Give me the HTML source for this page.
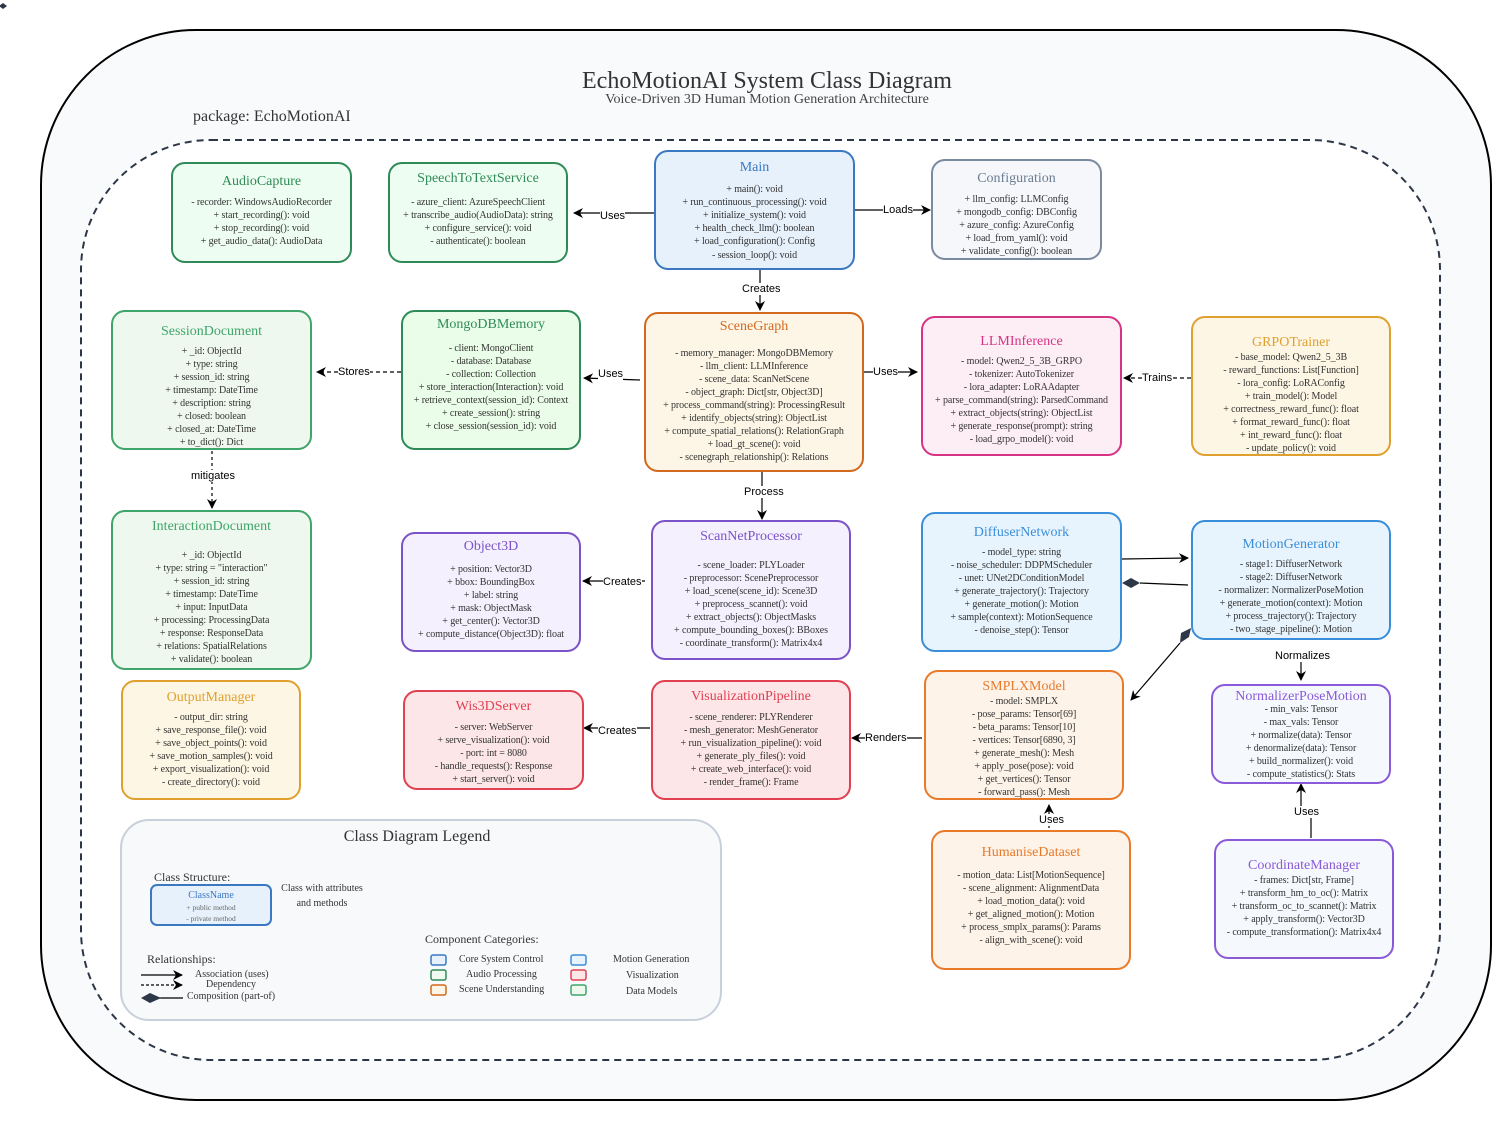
<!DOCTYPE html>
<html><head><meta charset="utf-8"><style>
*{margin:0;padding:0;box-sizing:border-box}
body{width:1492px;height:1131px;background:#fff;position:relative;overflow:hidden;font-family:"Liberation Serif",serif;color:#333}
.b{position:absolute;border:2px solid;border-radius:14px;text-align:center}
.b .t{font-size:14px;line-height:16px;white-space:nowrap}
.b .m{font-size:10px;line-height:13px;white-space:nowrap;color:#333;letter-spacing:-0.1px}
.lbl{position:absolute;font-family:"Liberation Sans",sans-serif;font-size:11px;color:#000;background:#fff;line-height:12px;white-space:nowrap}
.tx{position:absolute;white-space:nowrap}
</style></head><body>
<svg width="1492" height="1131" style="position:absolute;left:0;top:0">
<defs>
<marker id="a" markerWidth="10" markerHeight="10" refX="9" refY="5" orient="auto" markerUnits="userSpaceOnUse"><path d="M0,0 L10,5 L0,10 L3,5 z" fill="#000"/></marker>
</defs>
<path d="M3,3 l4,3 -4,3 -4,-3z" fill="#2d3748"/>
<rect x="41" y="30" width="1450" height="1070" rx="155" fill="#f8fafc" stroke="#000" stroke-width="2"/>
<rect x="81" y="140" width="1359" height="920" rx="130" fill="#fff" stroke="#2d3748" stroke-width="2" stroke-dasharray="7,5"/>
<g stroke="#000" stroke-width="1.2" fill="none">
<line x1="654" y1="213" x2="574" y2="213" marker-end="url(#a)"/>
<line x1="855" y1="210" x2="930" y2="210" marker-end="url(#a)"/>
<line x1="760" y1="270" x2="760" y2="310" marker-end="url(#a)"/>
<line x1="401" y1="372" x2="317" y2="372" stroke-dasharray="4,3" marker-end="url(#a)"/>
<line x1="640" y1="380" x2="584" y2="378" marker-end="url(#a)"/>
<line x1="864" y1="372" x2="917" y2="372" marker-end="url(#a)"/>
<line x1="1191" y1="378" x2="1124" y2="378" stroke-dasharray="4,3" marker-end="url(#a)"/>
<line x1="212" y1="451" x2="212" y2="508" stroke-dasharray="3,3" marker-end="url(#a)"/>
<line x1="762" y1="472" x2="762" y2="519" marker-end="url(#a)"/>
<line x1="645" y1="581" x2="583" y2="581" marker-end="url(#a)"/>
<line x1="1122" y1="559" x2="1188" y2="558" marker-end="url(#a)"/>
<line x1="1140" y1="583" x2="1188" y2="585"/>
<line x1="1180" y1="643" x2="1131" y2="700" marker-end="url(#a)"/>
<line x1="1301" y1="662" x2="1301" y2="680" marker-end="url(#a)"/>
<line x1="1311" y1="838" x2="1311" y2="818"/>
<line x1="1301" y1="806" x2="1301" y2="784" marker-end="url(#a)"/>
<line x1="650" y1="728" x2="584" y2="728" marker-end="url(#a)"/>
<line x1="922" y1="738" x2="852" y2="738" marker-end="url(#a)"/>
<line x1="1049" y1="828" x2="1049" y2="805" marker-end="url(#a)"/>
</g>
<path d="M1122,583 L1131,578 L1140,583 L1131,588 z" fill="#2d3748"/>
<path d="M1180,643 L1181,633 L1191,628 L1189,637 z" fill="#2d3748"/>
<rect x="121" y="820" width="600" height="200" rx="28" fill="#f7f9fb" stroke="#c8d0dc" stroke-width="2"/>
<rect x="151" y="885" width="120" height="40" rx="6" fill="#e6f1fc" stroke="#3a78c2" stroke-width="2"/>
<g stroke="#000" stroke-width="1.2">
<line x1="141" y1="975" x2="182" y2="975" marker-end="url(#a)"/>
<line x1="141" y1="985" x2="182" y2="985" stroke-dasharray="3,2" marker-end="url(#a)"/>
<line x1="158" y1="998" x2="183" y2="998"/>
</g>
<path d="M141,998 L150,993 L161,998 L150,1003 z" fill="#2d3748"/>
<g stroke-width="1.5">
<rect x="431" y="955" width="15" height="10" rx="2" fill="#e6f1fc" stroke="#3a78c2"/>
<rect x="431" y="970" width="15" height="10" rx="2" fill="#eefaf2" stroke="#2e8b57"/>
<rect x="431" y="985" width="15" height="10" rx="2" fill="#fdf6e6" stroke="#d2691e"/>
<rect x="571" y="955" width="15" height="10" rx="2" fill="#e8f4fd" stroke="#3a8ed9"/>
<rect x="571" y="970" width="15" height="10" rx="2" fill="#fde6e8" stroke="#e04050"/>
<rect x="571" y="985" width="15" height="10" rx="2" fill="#eef8ee" stroke="#3fa56a"/>
</g>
</svg>

<div class="tx" style="left:0;width:1534px;text-align:center;top:68px;font-size:24px;color:#333">EchoMotionAI System Class Diagram</div>
<div class="tx" style="left:0;width:1534px;text-align:center;top:92px;font-size:14px;color:#444">Voice-Driven 3D Human Motion Generation Architecture</div>
<div class="tx" style="left:193px;top:108px;font-size:16px;color:#333">package: EchoMotionAI</div>

<div class="b" style="left:171px;top:162px;width:181px;height:101px;border-color:#2e8b57;background:#eefdf2;padding-top:10px"><div class="t" style="color:#2e8b57">AudioCapture</div><div class="m" style="margin-top:6px">- recorder: WindowsAudioRecorder<br>+ start_recording(): void<br>+ stop_recording(): void<br>+ get_audio_data(): AudioData</div></div>

<div class="b" style="left:388px;top:162px;width:180px;height:101px;border-color:#2e8b57;background:#eefdf2;padding-top:7px"><div class="t" style="color:#2e8b57">SpeechToTextService</div><div class="m" style="margin-top:9px">- azure_client: AzureSpeechClient<br>+ transcribe_audio(AudioData): string<br>+ configure_service(): void<br>- authenticate(): boolean</div></div>

<div class="b" style="left:654px;top:150px;width:201px;height:120px;border-color:#3a78c2;background:#e6f1fc;padding-top:8px"><div class="t" style="color:#3a78c2">Main</div><div class="m" style="margin-top:7px">+ main(): void<br>+ run_continuous_processing(): void<br>+ initialize_system(): void<br>+ health_check_llm(): boolean<br>+ load_configuration(): Config<br><span style="line-height:16px">- session_loop(): void</span></div></div>

<div class="b" style="left:931px;top:159px;width:171px;height:101px;border-color:#7a8aa0;background:#f5f7fa;padding-top:10px"><div class="t" style="color:#6b7c93">Configuration</div><div class="m" style="margin-top:6px">+ llm_config: LLMConfig<br>+ mongodb_config: DBConfig<br>+ azure_config: AzureConfig<br>+ load_from_yaml(): void<br>+ validate_config(): boolean</div></div>

<div class="b" style="left:111px;top:310px;width:201px;height:140px;border-color:#3fa56a;background:#eef8ee;padding-top:12px"><div class="t" style="color:#3fa56a">SessionDocument</div><div class="m" style="margin-top:5px">+ _id: ObjectId<br>+ type: string<br>+ session_id: string<br>+ timestamp: DateTime<br>+ description: string<br>+ closed: boolean<br>+ closed_at: DateTime<br>+ to_dict(): Dict</div></div>

<div class="b" style="left:401px;top:310px;width:180px;height:140px;border-color:#2e8b57;background:#eafde8;padding-top:5px"><div class="t" style="color:#2e8b57">MongoDBMemory</div><div class="m" style="margin-top:9px">- client: MongoClient<br>- database: Database<br>- collection: Collection<br>+ store_interaction(Interaction): void<br>+ retrieve_context(session_id): Context<br>+ create_session(): string<br>+ close_session(session_id): void</div></div>

<div class="b" style="left:644px;top:312px;width:220px;height:160px;border-color:#d2691e;background:#fdf6e6;padding-top:5px"><div class="t" style="color:#d2691e">SceneGraph</div><div class="m" style="margin-top:12px">- memory_manager: MongoDBMemory<br>- llm_client: LLMInference<br>- scene_data: ScanNetScene<br>- object_graph: Dict[str, Object3D]<br>+ process_command(string): ProcessingResult<br>+ identify_objects(string): ObjectList<br>+ compute_spatial_relations(): RelationGraph<br>+ load_gt_scene(): void<br>- scenegraph_relationship(): Relations</div></div>

<div class="b" style="left:921px;top:316px;width:201px;height:140px;border-color:#d63384;background:#fdeef5;padding-top:16px"><div class="t" style="color:#d63384">LLMInference</div><div class="m" style="margin-top:5px">- model: Qwen2_5_3B_GRPO<br>- tokenizer: AutoTokenizer<br>- lora_adapter: LoRAAdapter<br>+ parse_command(string): ParsedCommand<br>+ extract_objects(string): ObjectList<br>+ generate_response(prompt): string<br>- load_grpo_model(): void</div></div>

<div class="b" style="left:1191px;top:316px;width:200px;height:140px;border-color:#e0a030;background:#fef6e4;padding-top:17px"><div class="t" style="color:#e0a030">GRPOTrainer</div><div class="m" style="margin-top:0px">- base_model: Qwen2_5_3B<br>- reward_functions: List[Function]<br>- lora_config: LoRAConfig<br>+ train_model(): Model<br>+ correctness_reward_func(): float<br>+ format_reward_func(): float<br>+ int_reward_func(): float<br>- update_policy(): void</div></div>

<div class="b" style="left:111px;top:510px;width:201px;height:160px;border-color:#3fa56a;background:#eef8ee;padding-top:7px"><div class="t" style="color:#3fa56a">InteractionDocument</div><div class="m" style="margin-top:14px">+ _id: ObjectId<br>+ type: string = "interaction"<br>+ session_id: string<br>+ timestamp: DateTime<br>+ input: InputData<br>+ processing: ProcessingData<br>+ response: ResponseData<br>+ relations: SpatialRelations<br>+ validate(): boolean</div></div>

<div class="b" style="left:401px;top:532px;width:180px;height:120px;border-color:#7b52c8;background:#f4f0fd;padding-top:5px"><div class="t" style="color:#7b52c8">Object3D</div><div class="m" style="margin-top:8px">+ position: Vector3D<br>+ bbox: BoundingBox<br>+ label: string<br>+ mask: ObjectMask<br>+ get_center(): Vector3D<br>+ compute_distance(Object3D): float</div></div>

<div class="b" style="left:651px;top:520px;width:200px;height:140px;border-color:#7b52c8;background:#f4f0fd;padding-top:7px"><div class="t" style="color:#7b52c8">ScanNetProcessor</div><div class="m" style="margin-top:14px">- scene_loader: PLYLoader<br>- preprocessor: ScenePreprocessor<br>+ load_scene(scene_id): Scene3D<br>+ preprocess_scannet(): void<br>+ extract_objects(): ObjectMasks<br>+ compute_bounding_boxes(): BBoxes<br>- coordinate_transform(): Matrix4x4</div></div>

<div class="b" style="left:921px;top:512px;width:201px;height:140px;border-color:#3a8ed9;background:#e8f4fd;padding-top:11px"><div class="t" style="color:#3a8ed9">DiffuserNetwork</div><div class="m" style="margin-top:5px">- model_type: string<br>- noise_scheduler: DDPMScheduler<br>- unet: UNet2DConditionModel<br>+ generate_trajectory(): Trajectory<br>+ generate_motion(): Motion<br>+ sample(context): MotionSequence<br>- denoise_step(): Tensor</div></div>

<div class="b" style="left:1191px;top:520px;width:200px;height:120px;border-color:#3a8ed9;background:#e8f4fd;padding-top:15px"><div class="t" style="color:#3a8ed9">MotionGenerator</div><div class="m" style="margin-top:5px">- stage1: DiffuserNetwork<br>- stage2: DiffuserNetwork<br>- normalizer: NormalizerPoseMotion<br>+ generate_motion(context): Motion<br>+ process_trajectory(): Trajectory<br>- two_stage_pipeline(): Motion</div></div>

<div class="b" style="left:121px;top:680px;width:180px;height:120px;border-color:#e0a030;background:#fef6e4;padding-top:8px"><div class="t" style="color:#e0a030">OutputManager</div><div class="m" style="margin-top:5px">- output_dir: string<br>+ save_response_file(): void<br>+ save_object_points(): void<br>+ save_motion_samples(): void<br>+ export_visualization(): void<br>- create_directory(): void</div></div>

<div class="b" style="left:403px;top:690px;width:181px;height:100px;border-color:#e04050;background:#fde6e8;padding-top:7px"><div class="t" style="color:#e04050">Wis3DServer</div><div class="m" style="margin-top:6px">- server: WebServer<br>+ serve_visualization(): void<br>- port: int = 8080<br>- handle_requests(): Response<br>+ start_server(): void</div></div>

<div class="b" style="left:651px;top:680px;width:200px;height:120px;border-color:#e04050;background:#fde6e8;padding-top:7px"><div class="t" style="color:#e04050">VisualizationPipeline</div><div class="m" style="margin-top:6px">- scene_renderer: PLYRenderer<br>- mesh_generator: MeshGenerator<br>+ run_visualization_pipeline(): void<br>+ generate_ply_files(): void<br>+ create_web_interface(): void<br>- render_frame(): Frame</div></div>

<div class="b" style="left:924px;top:670px;width:200px;height:130px;border-color:#e87a2a;background:#fef3e8;padding-top:7px"><div class="t" style="color:#e87a2a">SMPLXModel</div><div class="m" style="margin-top:0px">- model: SMPLX<br>- pose_params: Tensor[69]<br>- beta_params: Tensor[10]<br>- vertices: Tensor[6890, 3]<br>+ generate_mesh(): Mesh<br>+ apply_pose(pose): void<br>+ get_vertices(): Tensor<br>- forward_pass(): Mesh</div></div>

<div class="b" style="left:1211px;top:684px;width:180px;height:100px;border-color:#8a5ad8;background:#f5f8fc;padding-top:3px"><div class="t" style="color:#8a5ad8">NormalizerPoseMotion</div><div class="m" style="margin-top:-2px">- min_vals: Tensor<br>- max_vals: Tensor<br>+ normalize(data): Tensor<br>+ denormalize(data): Tensor<br>+ build_normalizer(): void<br>- compute_statistics(): Stats</div></div>

<div class="b" style="left:931px;top:830px;width:200px;height:140px;border-color:#e87a2a;background:#fef3e8;padding-top:13px"><div class="t" style="color:#e87a2a">HumaniseDataset</div><div class="m" style="margin-top:8px">- motion_data: List[MotionSequence]<br>- scene_alignment: AlignmentData<br>+ load_motion_data(): void<br>+ get_aligned_motion(): Motion<br>+ process_smplx_params(): Params<br>- align_with_scene(): void</div></div>

<div class="b" style="left:1214px;top:839px;width:180px;height:120px;border-color:#8a5ad8;background:#f5f8fc;padding-top:17px"><div class="t" style="color:#8a5ad8">CoordinateManager</div><div class="m" style="margin-top:0px">- frames: Dict[str, Frame]<br>+ transform_hm_to_oc(): Matrix<br>+ transform_oc_to_scannet(): Matrix<br>+ apply_transform(): Vector3D<br>- compute_transformation(): Matrix4x4</div></div>

<div class="lbl" style="left:600px;top:210px">Uses</div>
<div class="lbl" style="left:883px;top:204px">Loads</div>
<div class="lbl" style="left:742px;top:283px">Creates</div>
<div class="lbl" style="left:338px;top:366px">Stores</div>
<div class="lbl" style="left:598px;top:368px">Uses</div>
<div class="lbl" style="left:873px;top:366px">Uses</div>
<div class="lbl" style="left:1142px;top:372px">Trains</div>
<div class="lbl" style="left:191px;top:470px">mitigates</div>
<div class="lbl" style="left:744px;top:486px">Process</div>
<div class="lbl" style="left:603px;top:576px">Creates</div>
<div class="lbl" style="left:1275px;top:650px">Normalizes</div>
<div class="lbl" style="left:1294px;top:806px">Uses</div>
<div class="lbl" style="left:598px;top:725px">Creates</div>
<div class="lbl" style="left:865px;top:732px">Renders</div>
<div class="lbl" style="left:1039px;top:814px">Uses</div>

<div class="tx" style="left:117px;width:600px;text-align:center;top:828px;font-size:16px">Class Diagram Legend</div>
<div class="tx" style="left:154px;top:870px;font-size:12px">Class Structure:</div>
<div class="tx" style="left:151px;width:120px;text-align:center;top:890px;font-size:10px;color:#3a78c2">ClassName</div>
<div class="tx" style="left:151px;width:120px;text-align:center;top:902px;font-size:7.5px;color:#666;line-height:11px">+ public method<br>- private method</div>
<div class="tx" style="left:279px;top:881px;font-size:10px;text-align:center;line-height:15px;width:86px">Class with attributes<br>and methods</div>
<div class="tx" style="left:147px;top:952px;font-size:12px">Relationships:</div>
<div class="tx" style="left:195px;top:969px;font-size:10px">Association (uses)</div>
<div class="tx" style="left:206px;top:979px;font-size:10px">Dependency</div>
<div class="tx" style="left:187px;top:991px;font-size:10px">Composition (part-of)</div>
<div class="tx" style="left:425px;top:932px;font-size:12px">Component Categories:</div>
<div class="tx" style="left:459px;top:954px;font-size:10px">Core System Control</div>
<div class="tx" style="left:466px;top:969px;font-size:10px">Audio Processing</div>
<div class="tx" style="left:459px;top:984px;font-size:10px">Scene Understanding</div>
<div class="tx" style="left:613px;top:954px;font-size:10px">Motion Generation</div>
<div class="tx" style="left:626px;top:970px;font-size:10px">Visualization</div>
<div class="tx" style="left:626px;top:986px;font-size:10px">Data Models</div>
</body></html>
